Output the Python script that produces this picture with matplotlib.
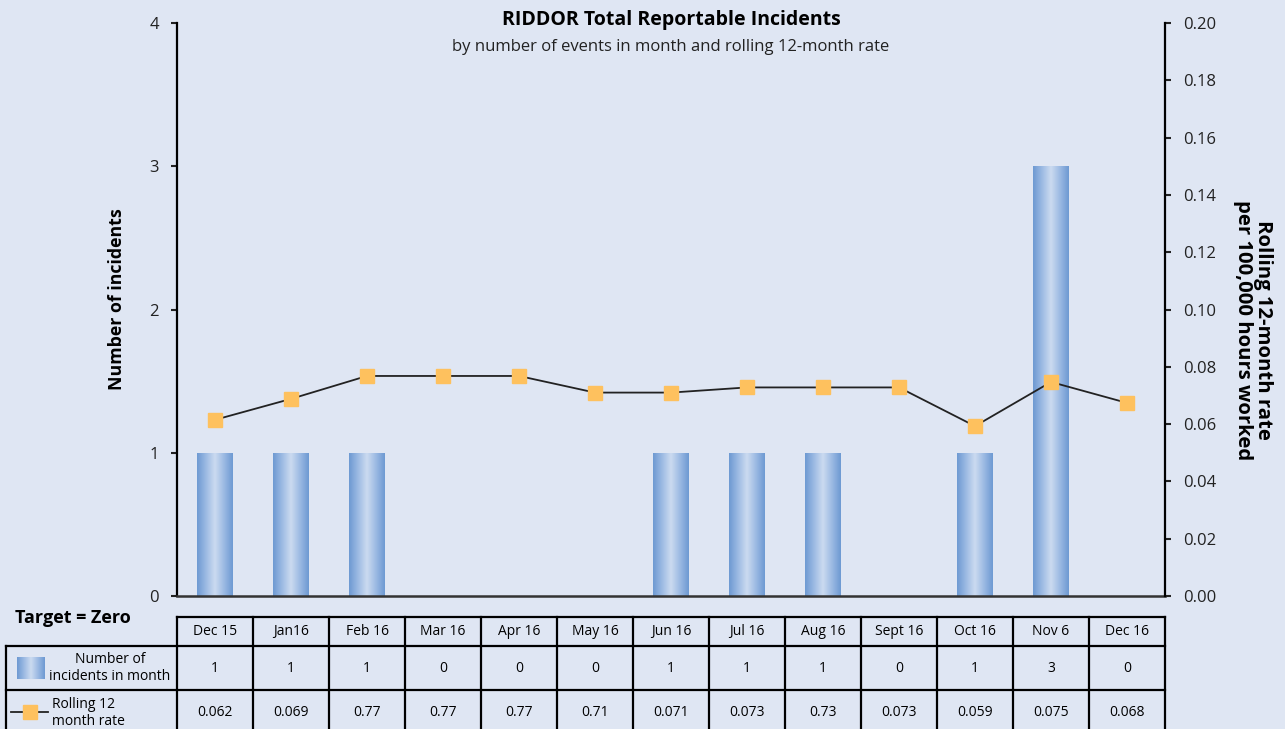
import matplotlib
matplotlib.use("Agg")
import matplotlib.pyplot as plt
import numpy as np
from matplotlib.colors import LinearSegmentedColormap
from matplotlib.lines import Line2D

plt.rcParams['font.family'] = ['Open Sans', 'DejaVu Sans']

# Data
months = ["Dec 15", "Jan16", "Feb 16", "Mar 16", "Apr 16", "May 16", "Jun 16",
          "Jul 16", "Aug 16", "Sept 16", "Oct 16", "Nov 6", "Dec 16"]
incidents = [1, 1, 1, 0, 0, 0, 1, 1, 1, 0, 1, 3, 0]
rolling_rate = [0.0615, 0.0688, 0.0768, 0.0768, 0.0768, 0.071, 0.071,
                0.0728, 0.0728, 0.0728, 0.0593, 0.0747, 0.0674]
# as printed in the table under the chart
incident_labels = ["1", "1", "1", "0", "0", "0", "1", "1", "1", "0", "1", "3", "0"]
rate_labels = ["0.062", "0.069", "0.77", "0.77", "0.77", "0.71", "0.071",
               "0.073", "0.73", "0.073", "0.059", "0.075", "0.068"]

bg = '#dfe6f3'
W, H = 1285, 729
fig = plt.figure(figsize=(W / 100, H / 100), dpi=100, facecolor=bg)

# axes box in pixels: left 177, right 1165, top 23, bottom 596
L, R, T, B = 177 / W, 1165 / W, 1 - 23 / H, 1 - 596 / H
ax = fig.add_axes([L, B, R - L, T - B])
ax.set_facecolor(bg)

x = np.arange(len(months))
bar_w = 0.47
grad_cmap = LinearSegmentedColormap.from_list(
    'bar', ['#6d99d2', '#9cbae3', '#ccdbf0', '#9cbae3', '#6d99d2'])
grad = np.linspace(0, 1, 256).reshape(1, -1)

bars = ax.bar(x, incidents, width=bar_w, color='none', edgecolor='none', zorder=2)
for b in bars:
    if b.get_height() <= 0:
        continue
    x0 = b.get_x()
    im = ax.imshow(grad, extent=[x0, x0 + b.get_width(), 0, b.get_height()],
                   aspect='auto', cmap=grad_cmap, zorder=2, interpolation='bicubic')
    im.set_clip_path(b)

ax.set_xlim(-0.5, len(months) - 0.5)
ax.set_ylim(0, 4)
ax.set_yticks([0, 1, 2, 3, 4])
ax.set_xticks([])
ax.spines['top'].set_visible(False)
ax.spines['right'].set_visible(False)
ax.spines['bottom'].set_color('#333333')
ax.spines['bottom'].set_linewidth(1.8)
ax.spines['left'].set_linewidth(1.6)
ax.tick_params(axis='y', direction='out', length=4, width=1.5, pad=9,
               labelsize=12, colors='#222222')

ax2 = ax.twinx()
ax2.plot(x, rolling_rate, color='#222222', linewidth=1.3, marker='s',
         markersize=10.5, markerfacecolor='#fec15e', markeredgecolor='#fec15e',
         zorder=3)
ax2.set_ylim(0, 0.2)
rticks = np.arange(0, 0.201, 0.02)
ax2.set_yticks(rticks)
ax2.set_yticklabels([f'{v:.2f}' for v in rticks])
for s in ['top', 'left', 'bottom']:
    ax2.spines[s].set_visible(False)
ax2.spines['right'].set_linewidth(1.6)
ax2.tick_params(axis='y', direction='out', length=4, width=1.5, pad=9,
                labelsize=12, colors='#222222')

# axis titles
fig.text(117 / W, 1 - 299 / H, 'Number of incidents', rotation=90,
         ha='center', va='center', fontsize=12.8, fontweight='bold')
fig.text(1253 / W, 1 - 330 / H, 'Rolling 12-month rate\nper 100,000 hours worked',
         rotation=270, ha='center', va='center', fontsize=14.6, fontweight='bold',
         linespacing=0.95, multialignment='center')

# Titles
fig.text((L + R) / 2, 1 - 20 / H, 'RIDDOR Total Reportable Incidents',
         ha='center', va='center', fontsize=14, fontweight='bold')
fig.text((L + R) / 2, 1 - 47 / H,
         'by number of events in month and rolling 12-month rate',
         ha='center', va='center', fontsize=12, color='#222222')

# Data table below the chart
n = len(months)
colw = (R - L) / n
y_head_top = 1 - 617 / H
y_row1_top = 1 - 646 / H
y_row2_top = 1 - 690 / H
y_bottom = -0.02
lbl_left = 6 / W
lw = 1.6


def hline(y, x0, x1):
    fig.add_artist(Line2D([x0, x1], [y, y], transform=fig.transFigure,
                          color='black', linewidth=lw))


def vline(xp, y0, y1):
    fig.add_artist(Line2D([xp, xp], [y0, y1], transform=fig.transFigure,
                          color='black', linewidth=lw))


hline(y_head_top, L, R)
hline(y_row1_top, lbl_left, R)
hline(y_row2_top, lbl_left, R)
vline(lbl_left, y_bottom, y_row1_top)
for i in range(n + 1):
    vline(L + i * colw, y_bottom, y_head_top)

y_head_c = (y_head_top + y_row1_top) / 2
y_r1_c = (y_row1_top + y_row2_top) / 2
y_r2_c = 1 - 713 / H
for i in range(n):
    cx = L + (i + 0.5) * colw
    fig.text(cx, y_head_c, months[i], ha='center', va='center', fontsize=10)
    fig.text(cx, y_r1_c, incident_labels[i], ha='center', va='center', fontsize=10)
    fig.text(cx, y_r2_c, rate_labels[i], ha='center', va='center', fontsize=10)

fig.text(15 / W, 1 - 618 / H, 'Target = Zero', ha='left', va='center',
         fontsize=13, fontweight='bold')

# legend keys in the row label column
kax = fig.add_axes([17 / W, 1 - 679 / H, 27 / W, 22 / H])
kax.imshow(grad, aspect='auto', cmap=grad_cmap, interpolation='bicubic')
kax.axis('off')
fig.text(110 / W, y_r1_c, 'Number of\nincidents in month', ha='center',
         va='center', fontsize=10, linespacing=1.15)
fig.add_artist(Line2D([11 / W, 48 / W], [1 - 712 / H, 1 - 712 / H],
                      transform=fig.transFigure, color='#222222', linewidth=1.3))
fig.add_artist(Line2D([30 / W], [1 - 712 / H], transform=fig.transFigure,
                      marker='s', markersize=10.5, markerfacecolor='#fec15e',
                      markeredgecolor='#fec15e', linestyle='none'))
fig.text(52 / W, y_r2_c, 'Rolling 12\nmonth rate', ha='left', va='center',
         fontsize=10, linespacing=1.15)

fig.savefig('out.png', dpi=100, facecolor=bg)
